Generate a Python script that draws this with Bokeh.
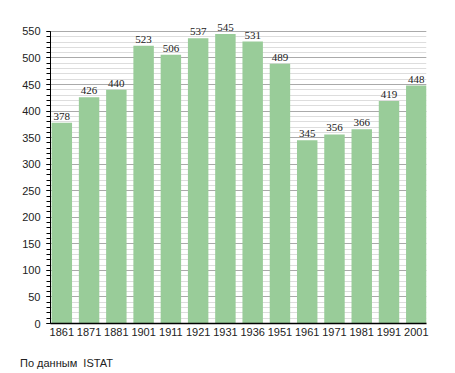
from bokeh.plotting import figure
from bokeh.layouts import column
from bokeh.models import ColumnDataSource, FixedTicker, LabelSet, Div
from bokeh.embed import file_html
from bokeh.resources import INLINE

years = ["1861", "1871", "1881", "1901", "1911", "1921", "1931", "1936",
         "1951", "1961", "1971", "1981", "1991", "2001"]
population = [378, 426, 440, 523, 506, 537, 545, 531, 489, 345, 356, 366, 419, 448]
y_ticks = list(range(0, 551, 50))
y_minor = list(range(0, 551, 10))
caption = "По данным  ISTAT"

xs = list(range(len(years)))
src = ColumnDataSource(dict(x=xs, top=population, label=[str(v) for v in population]))

W = 0.75
p = figure(width=440, height=345, output_backend="svg", toolbar_location=None,
           x_range=(-W / 2 - 0.04, len(years) - 1 + W / 2), y_range=(0, 580),
           min_border_left=50, min_border_right=14, min_border_top=15, min_border_bottom=22)
p.outline_line_color = None
p.background_fill_color = "white"

p.vbar(x="x", top="top", width=W, source=src, fill_color="#99cc99", line_color=None)

labels = LabelSet(x="x", y="top", text="label", source=src, text_align="center",
                  text_baseline="bottom", y_offset=3, text_font="Liberation Sans",
                  text_font_size="11px", text_color="#222222")
p.add_layout(labels)

p.xgrid.visible = False
p.ygrid.ticker = FixedTicker(ticks=y_ticks, minor_ticks=y_minor)
p.ygrid.grid_line_color = "#aaaaaa"
p.ygrid.minor_grid_line_color = "#dddddd"
p.ygrid.level = "underlay"

p.yaxis.ticker = FixedTicker(ticks=y_ticks, minor_ticks=y_minor)
p.yaxis.bounds = (0, 550)
p.yaxis.major_tick_out = 4
p.yaxis.major_tick_in = 0
p.yaxis.minor_tick_out = 4
p.yaxis.minor_tick_in = 0
p.yaxis.axis_line_color = "black"
p.yaxis.major_tick_line_color = "black"
p.yaxis.minor_tick_line_color = "black"
p.yaxis.major_label_text_font = "Liberation Sans"
p.yaxis.major_label_text_font_size = "11px"
p.yaxis.major_label_text_color = "#222222"
p.yaxis.major_label_standoff = 6

p.xaxis.ticker = FixedTicker(ticks=xs)
p.xaxis.major_label_overrides = {i: y for i, y in enumerate(years)}
p.xaxis.major_tick_out = 0
p.xaxis.major_tick_in = 0
p.xaxis.minor_tick_line_color = None
p.xaxis.axis_line_color = "black"
p.xaxis.axis_line_width = 1.5
p.xaxis.major_label_text_font = "Liberation Sans"
p.xaxis.major_label_text_font_size = "11px"
p.xaxis.major_label_text_color = "#222222"
p.xaxis.major_label_standoff = 4

note = Div(text=caption, width=300, height=20, margin=(11, 0, 0, 20),
           styles={"font-family": "Liberation Sans", "font-size": "11px",
                   "color": "#222222", "white-space": "pre"})

layout = column(p, note, spacing=0)
open("out.html", "w").write(file_html(layout, INLINE))
